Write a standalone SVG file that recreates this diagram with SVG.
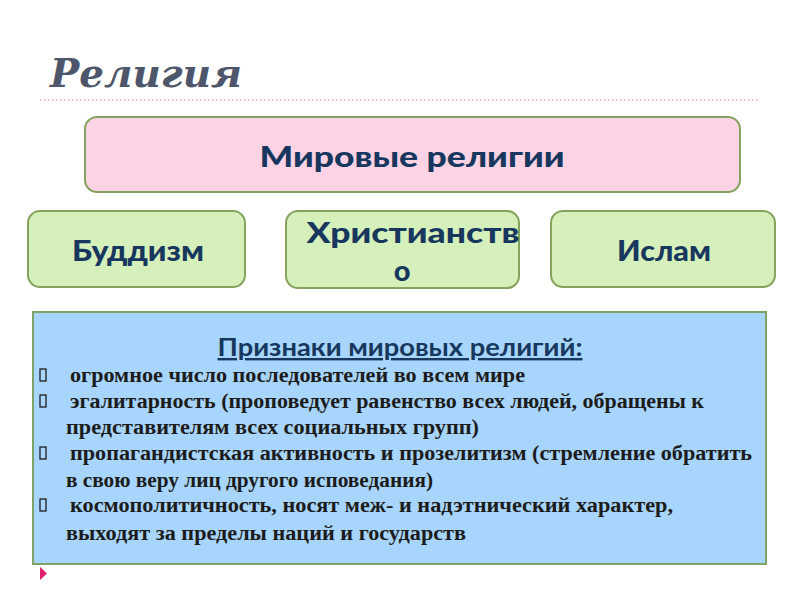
<svg xmlns="http://www.w3.org/2000/svg" width="800" height="600" viewBox="0 0 800 600">
<style>
.title{font-family:"DejaVu Serif","Liberation Serif",serif;font-weight:bold;font-style:italic;font-size:40px;fill:#4d566a}
.box{stroke:#86a35e;stroke-width:2}
.pink{fill:#fbd3e4}
.green{fill:#d5f0bb}
.blue{fill:#a8d5fb;stroke:#7ea367;stroke-width:2}
.lbl{font-family:Lato,"Open Sans",sans-serif;font-weight:900;font-size:29px;fill:#17375e;text-anchor:middle}
.hd{font-family:Lato,"Open Sans",sans-serif;font-weight:bold;font-size:24px;fill:#17375e;text-anchor:middle;text-decoration:underline}
.it{font-family:"Liberation Serif",serif;font-weight:bold;font-size:20px;fill:#1c1c1c}
.bul{fill:none;stroke:#1c1c1c;stroke-width:1.3}
</style>
<rect width="800" height="600" fill="#ffffff"/>
<text class="title" x="50" y="87" textLength="192" lengthAdjust="spacingAndGlyphs">Религия</text>
<line x1="40" y1="100" x2="760" y2="100" stroke="#e3a6c4" stroke-width="1.5" stroke-dasharray="1.5 2.5"/>
<g id="world">
<rect class="box pink" x="85" y="117" width="655" height="75" rx="12"/>
<text class="lbl" x="412" y="167" textLength="305" lengthAdjust="spacingAndGlyphs">Мировые религии</text>
</g>
<g id="buddhism">
<rect class="box green" x="28" y="211" width="217" height="76" rx="12"/>
<text class="lbl" x="138" y="261" textLength="132" lengthAdjust="spacingAndGlyphs">Буддизм</text>
</g>
<g id="christianity">
<rect class="box green" x="286" y="211" width="233" height="77" rx="12"/>
<text class="lbl" x="413" y="243" textLength="213" lengthAdjust="spacingAndGlyphs">Христианств</text>
<text class="lbl" x="402" y="281">о</text>
</g>
<g id="islam">
<rect class="box green" x="551" y="211" width="224" height="76" rx="12"/>
<text class="lbl" x="664" y="261" textLength="94" lengthAdjust="spacingAndGlyphs">Ислам</text>
</g>
<g id="features">
<rect class="blue" x="33" y="312" width="733" height="252"/>
<text class="hd" x="400" y="356" textLength="365" lengthAdjust="spacingAndGlyphs">Признаки мировых религий:</text>
<rect class="bul" x="40" y="369" width="6" height="12"/>
<text class="it" x="70" y="382" textLength="455" lengthAdjust="spacingAndGlyphs">огромное число последователей во всем мире</text>
<rect class="bul" x="40" y="395" width="6" height="12"/>
<text class="it" x="70" y="408" textLength="634" lengthAdjust="spacingAndGlyphs">эгалитарность (проповедует равенство всех людей, обращены к</text>
<text class="it" x="66" y="434" textLength="413" lengthAdjust="spacingAndGlyphs">представителям всех социальных групп)</text>
<rect class="bul" x="40" y="447" width="6" height="12"/>
<text class="it" x="70" y="460" textLength="682" lengthAdjust="spacingAndGlyphs">пропагандистская активность и прозелитизм (стремление обратить</text>
<text class="it" x="66" y="487" textLength="367" lengthAdjust="spacingAndGlyphs">в свою веру лиц другого исповедания)</text>
<rect class="bul" x="40" y="499" width="6" height="12"/>
<text class="it" x="70" y="512" textLength="603" lengthAdjust="spacingAndGlyphs">космополитичность, носят меж- и надэтнический характер,</text>
<text class="it" x="66" y="540" textLength="400" lengthAdjust="spacingAndGlyphs">выходят за пределы наций и государств</text>
</g>
<polygon points="40,567 47,573.5 40,580" fill="#e0206e"/>
</svg>
